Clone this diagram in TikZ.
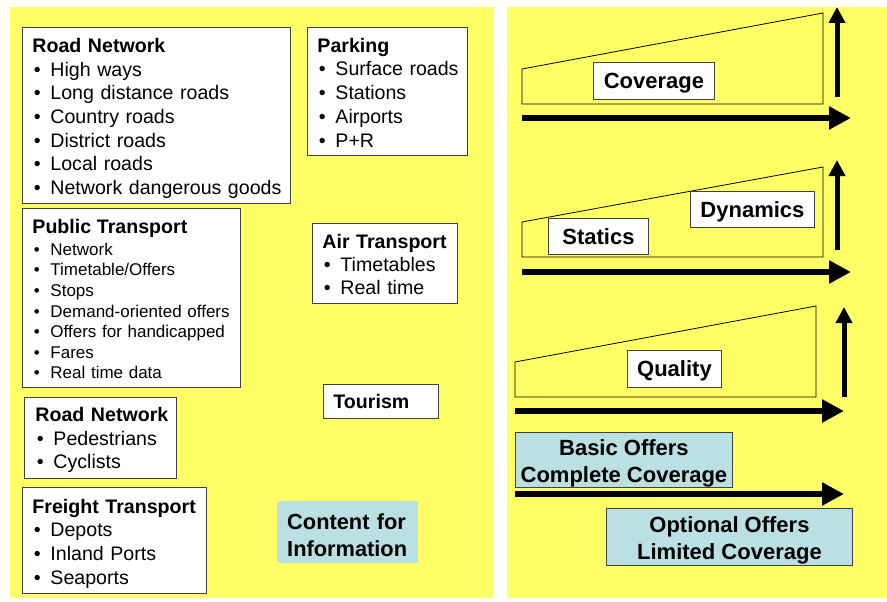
\documentclass[tikz,border=0pt]{standalone}
\usepackage{fontspec}
\setmainfont{Liberation Sans}
\usetikzlibrary{arrows.meta}
\definecolor{bgyellow}{RGB}{255,255,102}
\definecolor{infoblue}{RGB}{187,224,227}
\newcommand{\bul}[2][18pt]{\makebox[#1][l]{\hspace{1.5pt}•}\mbox{#2}}
\newcommand{\tstrut}[1]{\rule{0pt}{#1}}
\begin{document}
\begin{tikzpicture}[x=1pt,y=-1pt,
  wbox/.style={draw=black!75, line width=0.9pt, fill=white, anchor=north west,
    inner xsep=10pt, inner ysep=0pt, align=left,
    font=\fontsize{19.6}{23.7}\selectfont},
  cbox/.style={draw=black!75, line width=0.9pt, fill=white, anchor=north west,
    inner sep=0pt, align=center, text depth=0pt,
    font=\bfseries\fontsize{22}{27}\selectfont},
  bbox/.style={draw=black!75, line width=0.9pt, fill=infoblue, anchor=north west,
    inner sep=0pt, align=center, font=\bfseries\fontsize{22}{27}\selectfont},
  harrow/.style={line width=6pt, -{Triangle[length=22pt,width=22pt]}},
  varrow/.style={line width=5pt, -{Triangle[length=16pt,width=16pt]}},
  trap/.style={draw=black, line width=0.8pt}
]
\useasboundingbox (0,0) rectangle (887,602);
\fill[white] (0,0) rectangle (887,602);
\fill[bgyellow] (10,7) rectangle (494,598);
\fill[bgyellow] (507,7) rectangle (887,598);

% left panel
\node[wbox, text width=248pt, minimum height=176pt] (rn1) at (22,27)
  {\tstrut{20.3pt}\mbox{\textbf{Road Network}}\\ \bul{High ways}\\ \bul{Long distance roads}\\
   \bul{Country roads}\\ \bul{District roads}\\ \bul{Local roads}\\
   \bul{Network dangerous goods}};
\node[wbox, text width=140pt, minimum height=128pt] (park) at (307,27)
  {\tstrut{16.5pt}\mbox{\textbf{Parking}}\\ \bul{Surface roads}\\ \bul{Stations}\\ \bul{Airports}\\ \bul{P+R}};
\node[wbox, text width=198pt, minimum height=179pt,
  font=\fontsize{17}{20.6}\selectfont] (pt) at (22,208)
  {\tstrut{16.3pt}\mbox{\fontsize{19.6}{22}\selectfont\textbf{Public Transport}}\\[1.4pt]
   \bul{Network}\\ \bul{Timetable/Offers}\\ \bul{Stops}\\
   \bul{Demand-oriented offers}\\ \bul{Offers for handicapped}\\
   \bul{Fares}\\ \bul{Real time data}};
\node[wbox, inner xsep=11pt, text width=130pt, minimum height=81pt,
  font=\fontsize{19.6}{23.5}\selectfont] (rn2) at (24,397)
  {\tstrut{18.5pt}\mbox{\textbf{Road Network}}\\ \bul{Pedestrians}\\ \bul{Cyclists}};
\node[wbox, text width=164pt, minimum height=106pt] (fr) at (22,487)
  {\tstrut{20.3pt}\mbox{\textbf{Freight Transport}}\\ \bul{Depots}\\ \bul{Inland Ports}\\ \bul{Seaports}};
\node[wbox, text width=125pt, minimum height=80pt,
  font=\fontsize{19.6}{23}\selectfont] (air) at (312,223)
  {\tstrut{16.3pt}\mbox{\textbf{Air Transport}}\\ \bul{Timetables}\\ \bul{Real time}};
\node[wbox, text width=95pt, minimum height=34pt, text depth=0pt] (tour) at (323,384)
  {\mbox{\textbf{Tourism}}};
\node[anchor=north west, fill=infoblue, inner xsep=10pt, inner ysep=0pt,
  text width=121pt, minimum height=62pt, align=left,
  font=\bfseries\fontsize{21.8}{27}\selectfont] (cfi) at (277,501)
  {\tstrut{22pt}Content for\\Information};

% right panel: trapezoids
\draw[trap] (522,104) -- (522,69) -- (823,13) -- (823,104) -- cycle;
\draw[trap] (522,257) -- (522,222) -- (823,167) -- (823,257) -- cycle;
\draw[trap] (515,397) -- (515,362) -- (816,306) -- (816,397) -- cycle;

\node[cbox, minimum width=121pt, minimum height=37pt] (cov) at (593,62) {Coverage};
\node[cbox, minimum width=100pt, minimum height=36pt] (stat) at (548,218) {Statics};
\node[cbox, minimum width=124pt, minimum height=36pt] (dyn) at (690,191) {Dynamics};
\node[cbox, text depth=-1.5pt, minimum width=94pt, minimum height=37pt] (qual) at (627,350) {Quality};
\node[bbox, minimum width=217pt, minimum height=55pt] (basic) at (515,432)
  {\tstrut{23.5pt}Basic Offers\\Complete Coverage};
\node[bbox, minimum width=246pt, minimum height=57pt] (opt) at (606,508)
  {\tstrut{23pt}Optional Offers\\Limited Coverage};

% arrows
\coordinate (h1s) at (522,118); \coordinate (h1e) at (851,118);
\coordinate (h2s) at (522,272); \coordinate (h2e) at (851,272);
\coordinate (h3s) at (515,411); \coordinate (h3e) at (844,411);
\coordinate (h4s) at (515,494); \coordinate (h4e) at (844,494);
\coordinate (v1s) at (837,97);  \coordinate (v1e) at (837,7);
\coordinate (v2s) at (837,250); \coordinate (v2e) at (837,160);
\coordinate (v3s) at (844,397); \coordinate (v3e) at (844,307);
\draw[harrow] (h1s) -- (h1e);
\draw[harrow] (h2s) -- (h2e);
\draw[harrow] (h3s) -- (h3e);
\draw[harrow] (h4s) -- (h4e);
\draw[varrow] (v1s) -- (v1e);
\draw[varrow] (v2s) -- (v2e);
\draw[varrow] (v3s) -- (v3e);
\end{tikzpicture}
\end{document}
